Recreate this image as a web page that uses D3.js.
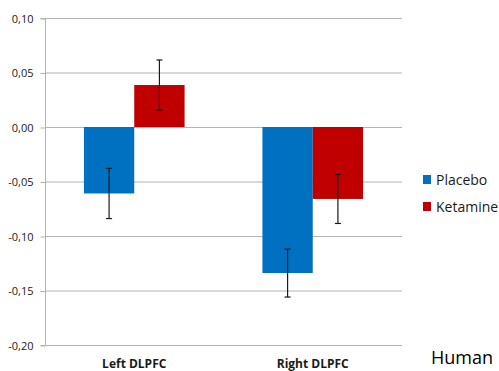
<!DOCTYPE html>
<html><head><meta charset="utf-8">
<script src="https://cdn.jsdelivr.net/npm/d3@7/dist/d3.min.js"></script>
<style>body{margin:0;background:#fff}svg{display:block}</style>
</head><body>
<svg id="c" width="499" height="371"></svg>
<script>
const categories = ["Left DLPFC", "Right DLPFC"];
const seriesNames = ["Placebo", "Ketamine"];
const placebo = [-0.061, -0.134];
const ketamine = [0.0385, -0.066];
const placeboErr = [0.023, 0.022];
const ketamineErr = [0.023, 0.0225];
const yTicks = [0.10, 0.05, 0.00, -0.05, -0.10, -0.15, -0.20];
const colors = ["#0070C0", "#C00000"];

(function () {
const svg = d3.select("#c");
const font = "'Open Sans', 'DejaVu Sans', sans-serif";
const mLeft = 45, mRight = 402, mTop = 18, mBottom = 345;

const y = d3.scaleLinear().domain([-0.20, 0.10]).range([mBottom, mTop]);
const x0 = d3.scaleBand().domain(categories).range([mLeft, mRight]).paddingInner(0.436).paddingOuter(0.218);
const x1 = d3.scaleBand().domain(seriesNames).range([0, x0.bandwidth()]);

// gridlines
svg.append("g").selectAll("line").data(yTicks).join("line")
  .attr("x1", mLeft).attr("x2", mRight)
  .attr("y1", d => y(d) + 0.5).attr("y2", d => y(d) + 0.5)
  .attr("stroke", "#b3b3b3").attr("stroke-width", 1);

// y axis
const yAxis = d3.axisLeft(y).tickValues(yTicks).tickSize(5).tickPadding(7)
  .tickFormat(d => d3.format(".2f")(d).replace(".", ",").replace("−", "-"));
const ga = svg.append("g").attr("transform", `translate(${mLeft + 0.5},0.5)`).call(yAxis);
ga.select(".domain").attr("stroke", "#b3b3b3").attr("d", `M-5,${y(0.10)}H0V${y(-0.20)}H-5`);
ga.selectAll(".tick line").attr("stroke", "#b3b3b3");
ga.selectAll(".tick text").attr("fill", "#1a1a1a").style("font-family", font).style("font-size", "11px");

// bars
const data = [];
categories.forEach((c, i) => {
  data.push({c, s: "Placebo", v: placebo[i], e: placeboErr[i], col: colors[0]});
  data.push({c, s: "Ketamine", v: ketamine[i], e: ketamineErr[i], col: colors[1]});
});
svg.append("g").selectAll("rect").data(data).join("rect")
  .attr("x", d => x0(d.c) + x1(d.s))
  .attr("width", x1.bandwidth())
  .attr("y", d => y(Math.max(0, d.v)))
  .attr("height", d => Math.abs(y(d.v) - y(0)))
  .attr("fill", d => d.col);

// error bars
const eg = svg.append("g").attr("stroke", "#1a1a1a").attr("stroke-width", 1.2);
data.forEach(d => {
  const cx = x0(d.c) + x1(d.s) + x1.bandwidth() / 2;
  eg.append("line").attr("x1", cx).attr("x2", cx).attr("y1", y(d.v + d.e)).attr("y2", y(d.v - d.e));
  eg.append("line").attr("x1", cx - 3).attr("x2", cx + 3).attr("y1", y(d.v + d.e)).attr("y2", y(d.v + d.e));
  eg.append("line").attr("x1", cx - 3).attr("x2", cx + 3).attr("y1", y(d.v - d.e)).attr("y2", y(d.v - d.e));
});

// category labels
svg.append("g").selectAll("text").data(categories).join("text")
  .attr("x", d => x0(d) + x0.bandwidth() / 2).attr("y", 368)
  .attr("text-anchor", "middle").attr("fill", "#1a1a1a")
  .style("font-family", font).style("font-size", "12px").style("font-weight", "bold")
  .text(d => d);

// legend
const lg = svg.append("g");
seriesNames.forEach((s, i) => {
  const yy = 175 + i * 27;
  lg.append("rect").attr("x", 423).attr("y", yy).attr("width", 8).attr("height", 9).attr("fill", colors[i]);
  lg.append("text").attr("x", 436).attr("y", yy + 9.5).attr("fill", "#1a1a1a")
    .style("font-family", font).style("font-size", "14px").text(s);
});

svg.append("text").attr("x", 431).attr("y", 364).attr("fill", "#000")
  .style("font-family", font).style("font-size", "18px").text("Human");
})();
</script>
</body></html>
